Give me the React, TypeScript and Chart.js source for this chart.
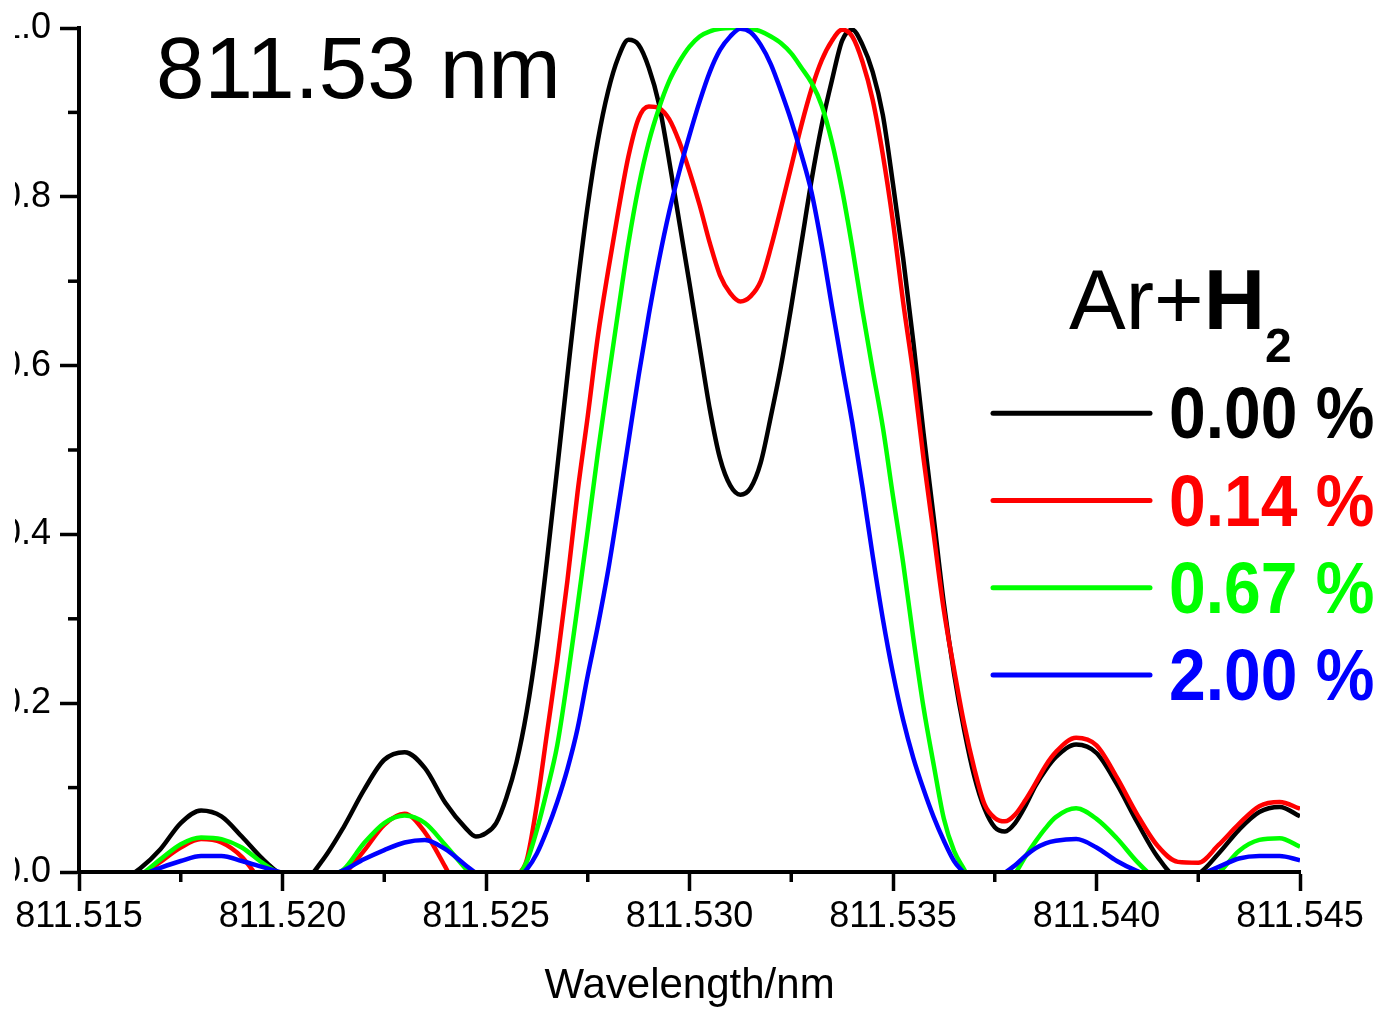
import React, { useEffect, useRef } from 'react';
import { Chart, registerables } from 'chart.js';

Chart.register(...registerables);

const FONT = "'Liberation Sans', Arial, Helvetica, sans-serif";

// Wavelength grid (nm): coarse in the wings, finer across the main peak
const WAVELENGTH = [
  811.515, 811.5155, 811.516, 811.5165, 811.517, 811.5175, 811.518, 811.5185, 811.519, 811.5195,
  811.52, 811.5205, 811.521, 811.5215, 811.522, 811.5225, 811.523, 811.5235, 811.524, 811.5245,
  811.52475, 811.525, 811.52525, 811.5255, 811.52575,
  811.526, 811.52625, 811.5265, 811.52675, 811.527, 811.52725, 811.5275, 811.52775, 811.528, 811.52825,
  811.5285, 811.52875, 811.529, 811.52925, 811.5295, 811.52975, 811.53, 811.53025, 811.5305, 811.53075,
  811.531, 811.53125, 811.5315, 811.53175, 811.532, 811.53225, 811.5325, 811.53275, 811.533, 811.53325,
  811.5335, 811.53375, 811.534, 811.53425, 811.5345, 811.53475, 811.535, 811.53525, 811.5355, 811.53575,
  811.536, 811.53625, 811.5365, 811.53675, 811.537,
  811.53725, 811.5375, 811.53775, 811.538, 811.53825, 811.5385, 811.53875, 811.539,
  811.5395, 811.54, 811.5405, 811.541, 811.5415, 811.542, 811.5425, 811.543, 811.5435, 811.544,
  811.5445, 811.545,
];

const H2_000 = [
  -0.03, -0.03, -0.012, 0.004, 0.027, 0.058, 0.073, 0.066, 0.042, 0.016,
  -0.004, -0.01, 0.015, 0.053, 0.097, 0.133, 0.142, 0.123, 0.082, 0.052,
  0.042, 0.046, 0.058, 0.088, 0.13,
  0.19, 0.27, 0.37, 0.478, 0.588, 0.695, 0.79, 0.867, 0.925, 0.965,
  0.986, 0.98, 0.953, 0.91, 0.843, 0.77, 0.697, 0.622, 0.548, 0.49,
  0.458, 0.447, 0.455, 0.485, 0.54, 0.6, 0.67, 0.745, 0.82, 0.885,
  0.938, 0.985, 0.998, 0.98, 0.948, 0.897, 0.815, 0.727, 0.628, 0.52,
  0.42, 0.318, 0.235, 0.168, 0.113,
  0.075, 0.053, 0.048, 0.058, 0.078, 0.102, 0.121, 0.136,
  0.151, 0.141, 0.104, 0.059, 0.018, -0.006, -0.002, 0.022, 0.05, 0.071,
  0.077, 0.066,
];

const H2_014 = [
  -0.02, -0.02, -0.015, -0.005, 0.012, 0.029, 0.039, 0.035, 0.018, -0.012,
  -0.03, -0.03, -0.015, -0.003, 0.025, 0.056, 0.069, 0.047, 0.006, -0.04,
  -0.05, -0.05, -0.045, -0.03, -0.006,
  0.014, 0.08, 0.165, 0.25, 0.345, 0.45, 0.54, 0.635, 0.712, 0.783,
  0.848, 0.893, 0.907, 0.905, 0.892, 0.865, 0.83, 0.79, 0.745, 0.707,
  0.686, 0.676, 0.682, 0.7, 0.74, 0.787, 0.836, 0.885, 0.928, 0.962,
  0.985, 0.998, 0.99, 0.96, 0.915, 0.85, 0.77, 0.675, 0.59, 0.49,
  0.4, 0.31, 0.24, 0.175, 0.122,
  0.08, 0.064, 0.06, 0.068, 0.085, 0.105, 0.126, 0.142,
  0.159, 0.15, 0.112, 0.068, 0.031, 0.012, 0.011, 0.032, 0.057, 0.078,
  0.083, 0.075,
];

const H2_067 = [
  -0.02, -0.02, -0.015, -0.004, 0.015, 0.033, 0.041, 0.039, 0.029, 0.011,
  -0.004, -0.012, -0.008, 0.003, 0.034, 0.058, 0.067, 0.058, 0.032, 0.004,
  -0.008, -0.012, -0.018, -0.02, -0.008,
  0.012, 0.05, 0.097, 0.15, 0.228, 0.315, 0.405, 0.497, 0.582, 0.665,
  0.745, 0.812, 0.865, 0.905, 0.937, 0.96, 0.978, 0.99, 0.996, 0.999,
  1.0, 1.0, 0.999, 0.996, 0.99, 0.982, 0.97, 0.953, 0.935, 0.908,
  0.865, 0.808, 0.74, 0.665, 0.595, 0.527, 0.445, 0.366, 0.277, 0.195,
  0.127, 0.063, 0.025, 0.003, -0.02,
  -0.03, -0.03, -0.018, -0.002, 0.018, 0.036, 0.052, 0.065,
  0.0755, 0.063, 0.04, 0.012, -0.01, -0.02, -0.012, -0.001, 0.025, 0.038,
  0.04, 0.03,
];

const H2_200 = [
  -0.01, -0.01, -0.01, -0.004, 0.005, 0.013, 0.019, 0.019, 0.013, 0.006,
  -0.001, -0.008, -0.006, 0.002, 0.015, 0.026, 0.035, 0.038, 0.027, 0.008,
  -0.001, -0.006, -0.01, -0.012, -0.008,
  0.003, 0.022, 0.05, 0.083, 0.122, 0.17, 0.233, 0.292, 0.357, 0.432,
  0.51, 0.588, 0.66, 0.725, 0.782, 0.83, 0.873, 0.913, 0.948, 0.974,
  0.99, 0.999, 0.995, 0.98, 0.957, 0.925, 0.89, 0.85, 0.805, 0.742,
  0.67, 0.6, 0.532, 0.456, 0.375, 0.3, 0.235, 0.18, 0.135, 0.098,
  0.065, 0.037, 0.013, -0.002, -0.02,
  -0.02, -0.012, -0.001, 0.008, 0.019, 0.028, 0.034, 0.037,
  0.039, 0.029, 0.013, 0.001, -0.008, -0.01, -0.004, 0.006, 0.016, 0.019,
  0.019, 0.014,
];

const SERIES_LABELS = ['0.00 %', '0.14 %', '0.67 %', '2.00 %'];
const SERIES_COLORS = ['#000000', '#ff0000', '#00ff00', '#0000ff'];

const X_TICKS = [811.515, 811.52, 811.525, 811.53, 811.535, 811.54, 811.545];
const X_MINOR_TICKS = [811.5175, 811.5225, 811.5275, 811.5325, 811.5375, 811.5425];
const Y_TICKS = [0, 0.2, 0.4, 0.6, 0.8, 1.0];
const Y_MINOR_TICKS = [0.1, 0.3, 0.5, 0.7, 0.9];

const X_TITLE = 'Wavelength/nm';
const ANNOTATION = '811.53 nm';
const LEGEND_TITLE_REGULAR = 'Ar+';
const LEGEND_TITLE_BOLD = 'H';
const LEGEND_TITLE_SUB = '2';

const CANVAS_LEFT = 15;
const CANVAS_W = 1386 - CANVAS_LEFT;
const CANVAS_H = 1009;
const Y_AXIS_W = 79 - CANVAS_LEFT;

const overlayPlugin = {
  id: 'overlay',
  afterDraw(chart: any) {
    const ctx = chart.ctx as CanvasRenderingContext2D;
    const xs = chart.scales.x;
    const ys = chart.scales.y;
    const area = chart.chartArea;
    ctx.save();

    // minor ticks
    ctx.strokeStyle = '#000';
    ctx.lineWidth = 3.5;
    ctx.lineCap = 'butt';
    for (const v of X_MINOR_TICKS) {
      const px = xs.getPixelForValue(v);
      ctx.beginPath();
      ctx.moveTo(px, area.bottom);
      ctx.lineTo(px, area.bottom + 10);
      ctx.stroke();
    }
    for (const v of Y_MINOR_TICKS) {
      const py = ys.getPixelForValue(v);
      ctx.beginPath();
      ctx.moveTo(area.left, py);
      ctx.lineTo(area.left - 11, py);
      ctx.stroke();
    }

    // annotation
    ctx.fillStyle = '#000';
    ctx.textAlign = 'left';
    ctx.textBaseline = 'alphabetic';
    ctx.font = `87px ${FONT}`;
    ctx.fillText(ANNOTATION, area.left + 77, 98);

    // legend title  Ar+H2
    let tx = area.left + 990;
    ctx.font = `85px ${FONT}`;
    ctx.fillText(LEGEND_TITLE_REGULAR, tx, 329);
    tx += ctx.measureText(LEGEND_TITLE_REGULAR).width;
    ctx.font = `bold 85px ${FONT}`;
    ctx.fillText(LEGEND_TITLE_BOLD, tx, 329);
    tx += ctx.measureText(LEGEND_TITLE_BOLD).width;
    ctx.font = `bold 48px ${FONT}`;
    ctx.fillText(LEGEND_TITLE_SUB, tx, 362);

    // legend rows
    const lineX0 = area.left + 914;
    const lineX1 = area.left + 1071;
    const textX = area.left + 1090;
    for (let i = 0; i < SERIES_LABELS.length; i++) {
      const baseY = 438.3 + i * 87.2;
      const lineY = baseY - 25;
      ctx.strokeStyle = SERIES_COLORS[i];
      ctx.lineWidth = 5;
      ctx.lineCap = 'round';
      ctx.beginPath();
      ctx.moveTo(lineX0, lineY);
      ctx.lineTo(lineX1, lineY);
      ctx.stroke();

      ctx.save();
      ctx.fillStyle = SERIES_COLORS[i];
      ctx.font = `bold 66px ${FONT}`;
      ctx.translate(textX, baseY);
      ctx.scale(1, 1.1);
      ctx.fillText(SERIES_LABELS[i], 0, 0);
      ctx.restore();
    }

    ctx.restore();
  },
};

export default function App() {
  const ref = useRef<HTMLCanvasElement>(null);

  useEffect(() => {
    const canvas = ref.current;
    if (!canvas) return;
    document.body.style.overflow = 'hidden';

    const seriesValues = [H2_000, H2_014, H2_067, H2_200];
    const datasets = seriesValues.map((vals, i) => ({
      label: SERIES_LABELS[i],
      data: WAVELENGTH.map((x, j) => ({ x, y: vals[j] })),
      borderColor: SERIES_COLORS[i],
      backgroundColor: SERIES_COLORS[i],
      borderWidth: 4.5,
      pointRadius: 0,
      fill: false,
      cubicInterpolationMode: 'monotone' as const,
      order: 4 - i,
    }));

    const chart = new Chart(canvas, {
      type: 'line',
      data: { datasets },
      options: {
        animation: false,
        responsive: false,
        devicePixelRatio: 1,
        layout: { padding: { left: 0, top: 28, right: 86, bottom: 0 } },
        plugins: { legend: { display: false }, tooltip: { enabled: false } },
        scales: {
          x: {
            type: 'linear',
            min: 811.515,
            max: 811.545,
            afterBuildTicks: (s: any) => {
              s.ticks = X_TICKS.map((v) => ({ value: v }));
            },
            afterFit: (s: any) => {
              s.height = 137;
              s.paddingLeft = 0;
              s.paddingRight = 0;
            },
            ticks: {
              callback: (v: any) => Number(v).toFixed(3),
              font: { size: 36, family: FONT },
              color: '#000',
              padding: 4,
              maxRotation: 0,
              autoSkip: false,
            },
            grid: {
              drawOnChartArea: false,
              drawTicks: true,
              tickLength: 19,
              tickWidth: 3.5,
              tickColor: '#000',
            },
            border: { display: true, color: '#000', width: 4, z: 1 },
            title: {
              display: true,
              text: X_TITLE,
              font: { size: 42, family: FONT },
              color: '#000',
              padding: { top: 0, bottom: -3 },
            },
          },
          y: {
            type: 'linear',
            min: 0,
            max: 1,
            afterBuildTicks: (s: any) => {
              s.ticks = Y_TICKS.map((v) => ({ value: v }));
            },
            afterFit: (s: any) => {
              s.width = Y_AXIS_W;
              s.paddingTop = 0;
              s.paddingBottom = 0;
            },
            ticks: {
              callback: (v: any) => Number(v).toFixed(1),
              font: { size: 36, family: FONT },
              color: '#000',
              padding: 9,
            },
            grid: {
              drawOnChartArea: false,
              drawTicks: true,
              tickLength: 19,
              tickWidth: 3.5,
              tickColor: '#000',
            },
            border: { display: true, color: '#000', width: 4, z: 1 },
          },
        },
      },
      plugins: [overlayPlugin],
    } as any);

    return () => chart.destroy();
  }, []);

  return (
    <div style={{ position: 'absolute', left: CANVAS_LEFT, top: 0, width: CANVAS_W, height: CANVAS_H }}>
      <canvas
        ref={ref}
        width={CANVAS_W}
        height={CANVAS_H}
        style={{ display: 'block', width: CANVAS_W, height: CANVAS_H }}
      />
    </div>
  );
}
